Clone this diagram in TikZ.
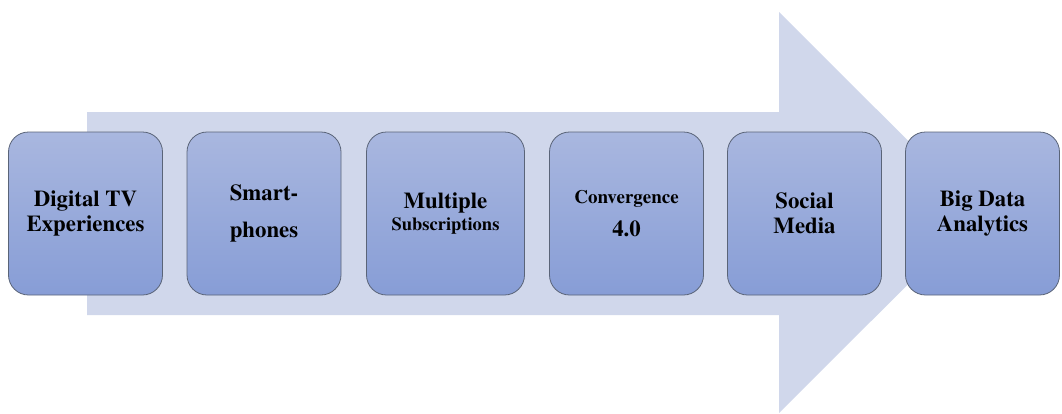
\documentclass[tikz,border=0pt]{standalone}
\usepackage[T1]{fontenc}
\renewcommand{\rmdefault}{ptm}
\definecolor{arrowfill}{HTML}{D0D7EB}
\definecolor{boxtop}{HTML}{A9B7DF}
\definecolor{boxbot}{HTML}{879DD6}
\definecolor{boxline}{HTML}{5A6478}
\tikzset{
  stagebox/.style={draw=boxline, line width=0.8pt, rounded corners=20pt,
    top color=boxtop, bottom color=boxbot,
    minimum width=154pt, minimum height=163pt, inner sep=0pt,
    align=center, font=\rmfamily\bfseries\fontsize{22.8}{25.5}\selectfont, text=black}
}
\begin{document}
\begin{tikzpicture}[x=1pt,y=-1pt]
\useasboundingbox (0,0) rectangle (1062,413);
\fill[arrowfill] (87,112) -- (779,112) -- (779,12) -- (980,212.5) -- (779,413) -- (779,315) -- (87,315) -- cycle;
\node[stagebox] (b1) at (85.5,213.5) {Digital TV\\Experiences};
\node[stagebox] (b2) at (264,213.5) {Smart-\\[12pt]phones};
\node[stagebox, minimum width=158pt] (b3) at (445.5,213.5) {Multiple\\[-4pt]{\fontsize{18.5}{20}\selectfont Subscriptions}};
\node[stagebox] (b4) at (626.5,213.5) {{\fontsize{19}{20}\selectfont Convergence}\\[8pt]4.0};
\node[stagebox] (b5) at (804.5,213.5) {Social\\Media};
\node[stagebox] (b6) at (982.5,213.5) {Big Data\\Analytics};
\end{tikzpicture}
\end{document}
